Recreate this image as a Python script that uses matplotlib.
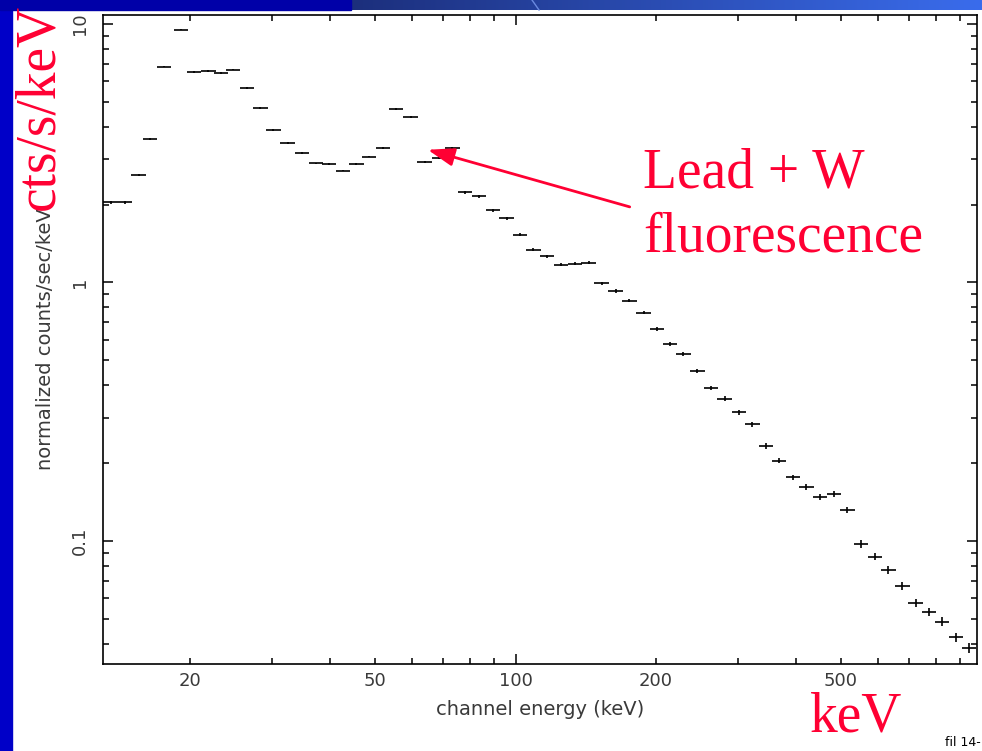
import matplotlib
matplotlib.use("Agg")
import matplotlib.pyplot as plt
import numpy as np
from matplotlib.ticker import FixedLocator, FuncFormatter, NullFormatter
from matplotlib.patches import Rectangle
from matplotlib.lines import Line2D

# channel energy (keV), bin centres
energy = [13.5, 14.5, 15.5, 16.4, 17.6, 19.1, 20.4, 21.9, 23.3, 24.7,
          26.5, 28.3, 30.2, 32.4, 34.8, 37.3, 39.8, 42.6, 45.5, 48.5,
          51.9, 55.4, 59.5, 63.8, 68.5, 73.2, 78.0, 83.5, 89.4, 95.7,
          102.3, 109.3, 116.8, 125.2, 134.1, 143.5, 153.1, 164.0, 175.7, 188.5,
          201.2, 214.7, 229.5, 245.9, 263.1, 281.2, 301.6, 322.6, 345.0, 368.5,
          394.0, 421.7, 450.8, 483.4, 516.4, 552.5, 591.0, 632.4, 677.8, 723.6,
          772.7, 825.0, 883.0, 941.5]
# normalized counts/sec/keV
rate = [2.04, 2.04, 2.60, 3.58, 6.84, 9.5, 6.52, 6.58, 6.46, 6.66,
        5.64, 4.73, 3.88, 3.47, 3.16, 2.89, 2.87, 2.71, 2.87, 3.07,
        3.31, 4.70, 4.38, 2.93, 3.02, 3.32, 2.23, 2.15, 1.90, 1.77,
        1.53, 1.34, 1.26, 1.17, 1.18, 1.19, 0.993, 0.927, 0.850, 0.764,
        0.659, 0.577, 0.529, 0.453, 0.390, 0.355, 0.314, 0.283, 0.233, 0.2045,
        0.176, 0.1613, 0.1476, 0.152, 0.1318, 0.0974, 0.0870, 0.0773, 0.0670, 0.0574,
        0.0531, 0.0487, 0.0424, 0.0385]
# relative error on rate
rel_err = [0.012, 0.012, 0.01, 0.008, 0.006, 0.006, 0.006, 0.006, 0.006, 0.006,
           0.007, 0.007, 0.007, 0.007, 0.007, 0.007, 0.007, 0.007, 0.007, 0.007,
           0.008, 0.008, 0.008, 0.009, 0.009, 0.009, 0.01, 0.01, 0.01, 0.011,
           0.011, 0.012, 0.012, 0.013, 0.013, 0.013, 0.014, 0.015, 0.015, 0.016,
           0.017, 0.018, 0.018, 0.019, 0.02, 0.021, 0.022, 0.023, 0.024, 0.025,
           0.026, 0.027, 0.028, 0.028, 0.03, 0.032, 0.033, 0.034, 0.035, 0.036,
           0.038, 0.04, 0.042, 0.045]

W, H = 982, 751
red = "#ff0033"
serif = "Liberation Serif"
grey = "#3a3a3a"

fig = plt.figure(figsize=(W / 100, H / 100), dpi=100, facecolor="white")

# slide decoration: blue strip on the left and bar on top
fig.patches.append(Rectangle((0, 0), 12 / W, 1, transform=fig.transFigure, color="#0000c8", zorder=1))
fig.patches.append(Rectangle((0, 1 - 10 / H), 351 / W, 10 / H, transform=fig.transFigure, color="#0000a8", zorder=1))
bar = fig.add_axes([351 / W, 1 - 10 / H, 1 - 351 / W, 10 / H])
grad = np.linspace(0, 1, 256)[None, :, None]
c0 = np.array([28, 47, 124]) / 255
c1 = np.array([58, 108, 236]) / 255
bar.imshow(c0 + (c1 - c0) * grad, aspect="auto")
bar.axis("off")
fig.add_artist(Line2D([532 / W, 539 / W], [1, 1 - 10 / H], transform=fig.transFigure, color="#6a8ae0", lw=1))

ax = fig.add_axes([103 / W, 1 - 664 / H, 874 / W, 649 / H])
e = np.array(energy)
r = np.array(rate)
hw = 0.0155
xerr = [e * (1 - 10 ** -hw), e * (10 ** hw - 1)]
ax.errorbar(e, r, xerr=xerr, yerr=r * np.array(rel_err), fmt="none",
            ecolor="black", elinewidth=1.2, capsize=0)
ax.set_xscale("log")
ax.set_yscale("log")
ax.set_xlim(13, 980)
ax.set_ylim(0.0334, 10.83)

ax.xaxis.set_major_locator(FixedLocator([100]))
ax.xaxis.set_minor_locator(FixedLocator([20, 30, 40, 50, 60, 70, 80, 90,
                                         200, 300, 400, 500, 600, 700, 800, 900]))
ax.xaxis.set_major_formatter(FuncFormatter(lambda v, p: "100"))
ax.xaxis.set_minor_formatter(FuncFormatter(lambda v, p: f"{v:g}" if round(v) in (20, 50, 200, 500) else ""))
ax.yaxis.set_major_locator(FixedLocator([0.1, 1, 10]))
ax.yaxis.set_minor_locator(FixedLocator([m * 10.0 ** k for k in (-2, -1, 0) for m in range(2, 10)]))
ax.yaxis.set_major_formatter(FuncFormatter(lambda v, p: f"{v:g}"))
ax.yaxis.set_minor_formatter(NullFormatter())
ax.tick_params(which="both", direction="in", top=True, right=True, color="black",
               labelcolor=grey, labelsize=13, width=1.1)
ax.tick_params(which="major", length=7.5)
ax.tick_params(which="minor", length=4)
ax.tick_params(axis="x", which="both", pad=6)
ax.tick_params(axis="y", which="major", labelrotation=90, pad=10)
for lab in ax.get_yticklabels():
    lab.set_verticalalignment("center")
for s in ax.spines.values():
    s.set_linewidth(1.2)

ax.set_xlabel("channel energy (keV)", fontsize=14, color=grey, labelpad=7)
ax.set_ylabel("normalized counts/sec/keV", fontsize=14, color=grey)
ax.yaxis.set_label_coords(-0.055, 0.5)

ax.annotate("", xy=(64.8, 3.26), xytext=(175.9, 1.96),
            arrowprops=dict(arrowstyle="-|>,head_length=1.6,head_width=0.55",
                            color=red, lw=2, shrinkA=0, shrinkB=0))

fig.text(643 / W, 1 - 187 / H, "Lead + W", color=red, fontsize=40, family=serif, va="baseline")
fig.text(643 / W, 1 - 252 / H, "fluorescence", color=red, fontsize=40, family=serif, va="baseline")
fig.text(810 / W, 1 - 732 / H, "keV", color=red, fontsize=40, family=serif, va="baseline")
fig.text(53 / W, 1 - 210 / H, "cts/s/keV", color=red, fontsize=40, family=serif,
         rotation=90, rotation_mode="anchor", ha="left", va="baseline")
fig.text(945 / W, 1 - 746 / H, "fil 14-", color="black", fontsize=9, va="baseline")

fig.savefig("out.png", dpi=100)
